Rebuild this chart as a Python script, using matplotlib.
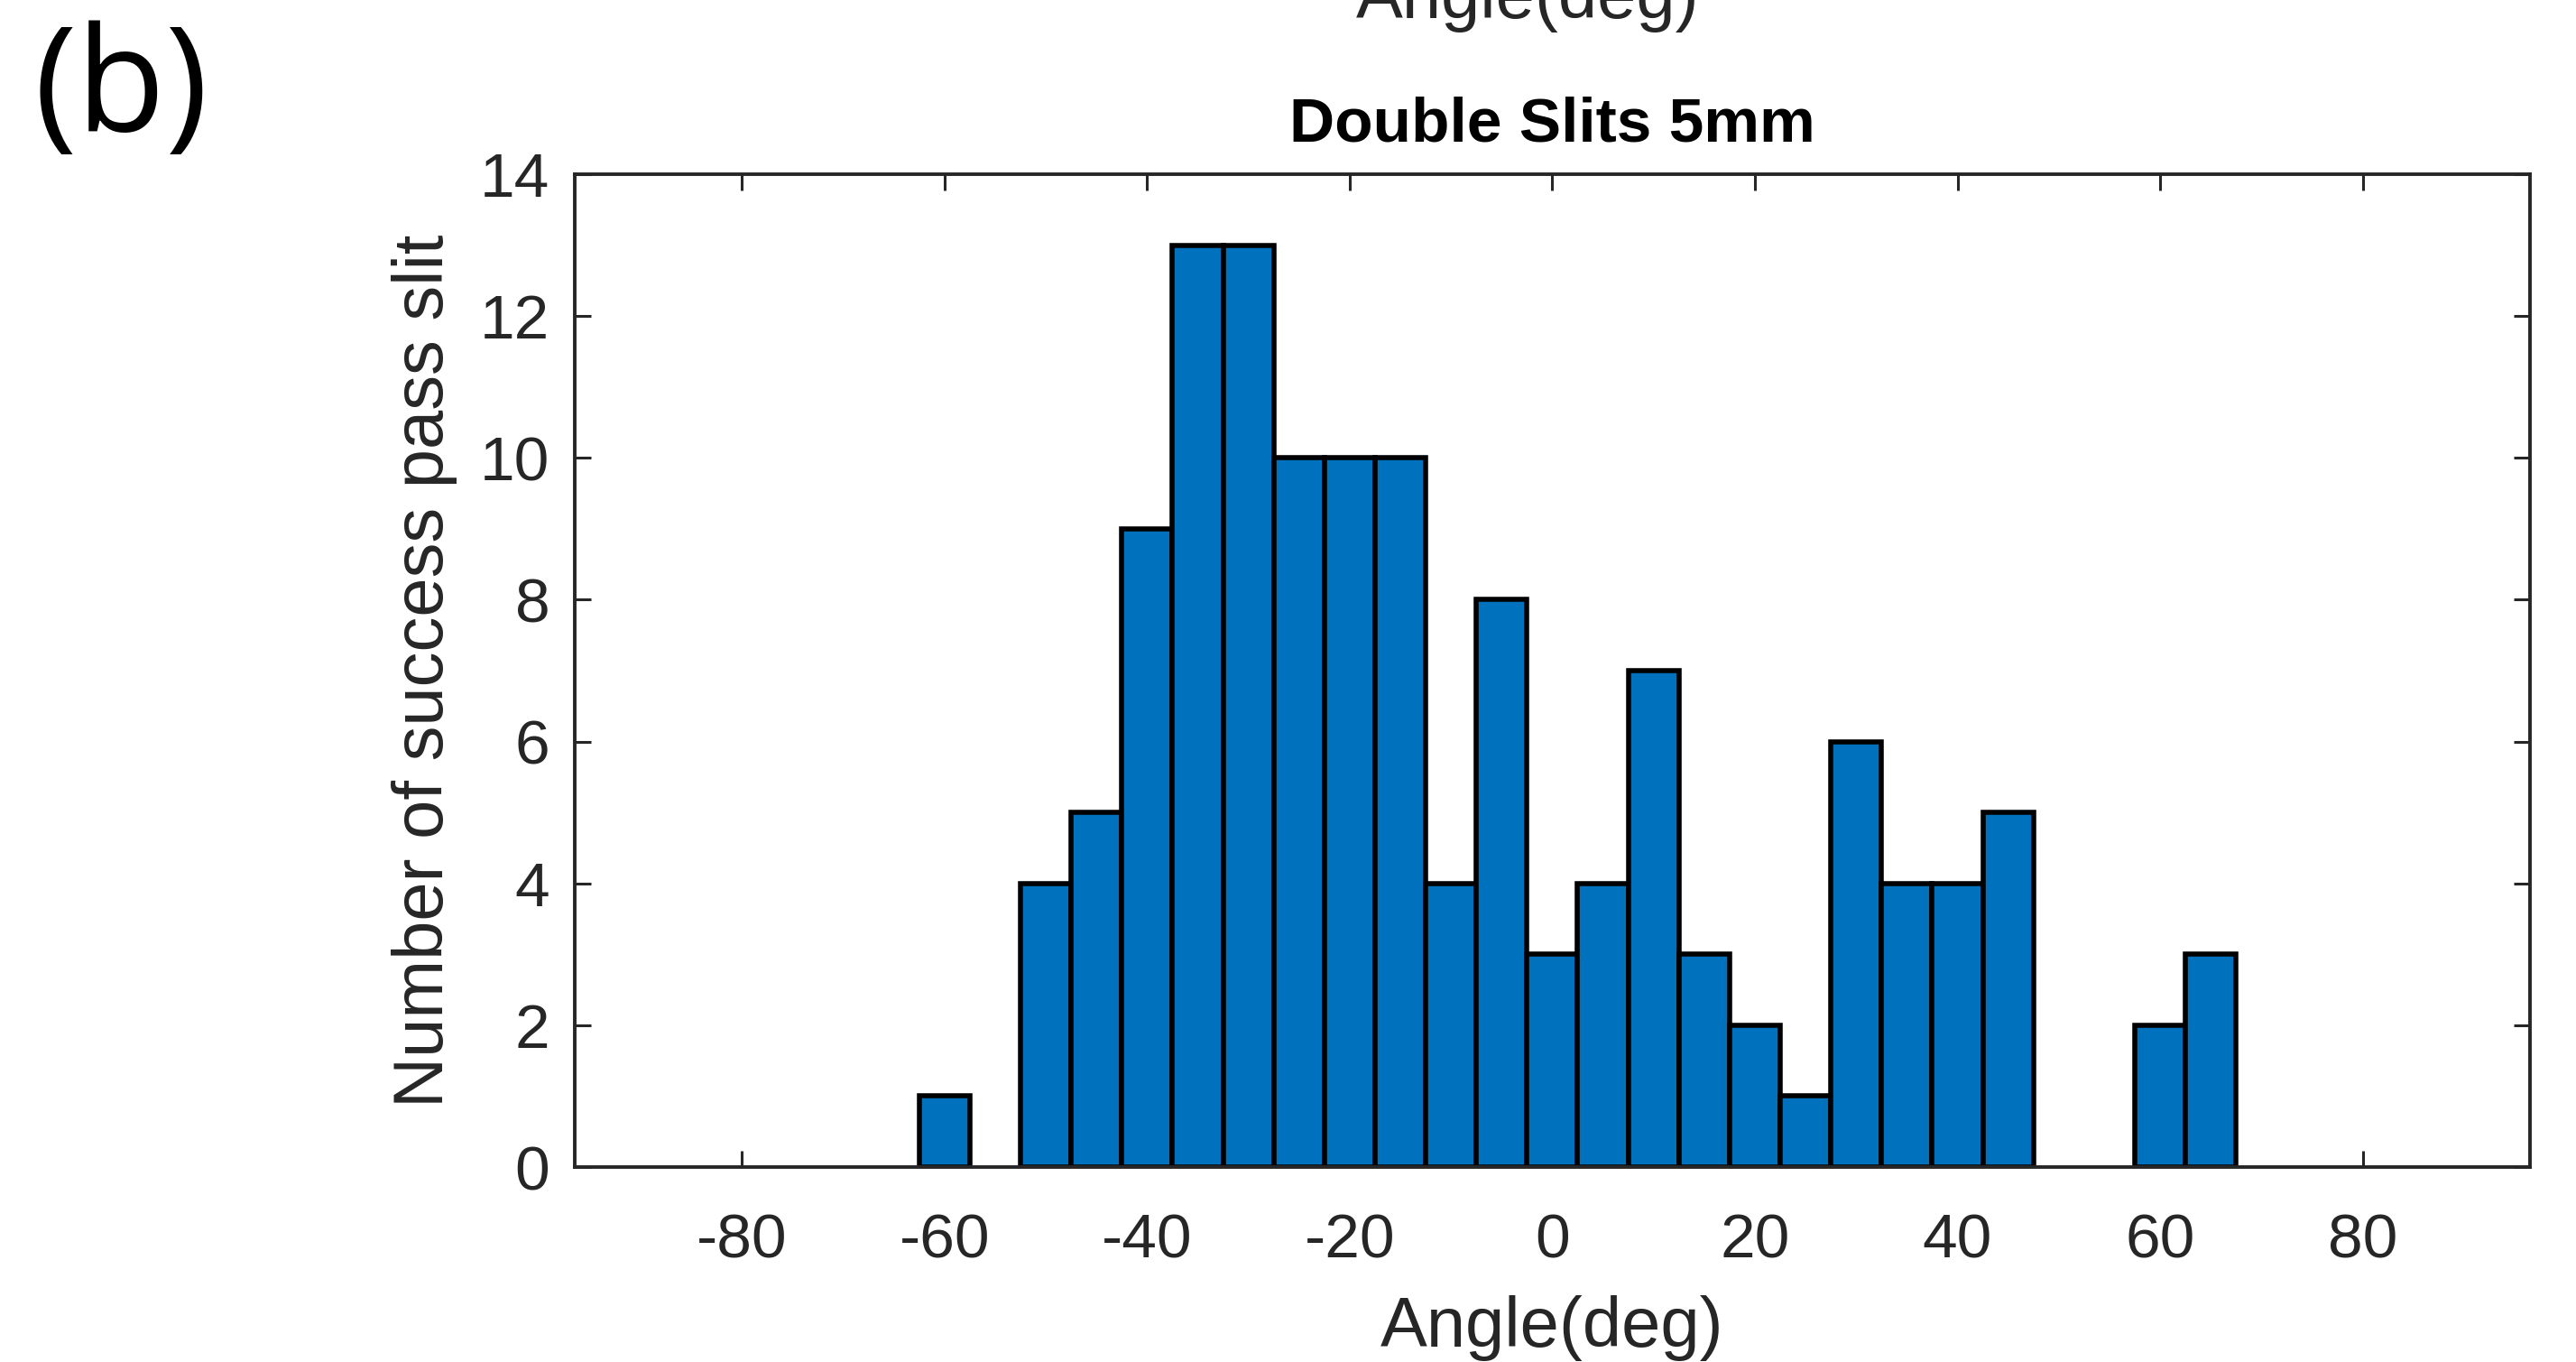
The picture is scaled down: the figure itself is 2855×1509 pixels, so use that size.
import matplotlib
matplotlib.use("Agg")
import matplotlib.pyplot as plt
import numpy as np

# Data
bin_centers = [-60, -55, -50, -45, -40, -35, -30, -25, -20, -15, -10, -5, 0, 5,
               10, 15, 20, 25, 30, 35, 40, 45, 50, 55, 60, 65]
counts = [1, 0, 4, 5, 9, 13, 13, 10, 10, 10, 4, 8, 3, 4,
          7, 3, 2, 1, 6, 4, 4, 5, 0, 0, 2, 3]
bin_width = 5
x_ticks = [-80, -60, -40, -20, 0, 20, 40, 60, 80]
y_ticks = [0, 2, 4, 6, 8, 10, 12, 14]

plt.rcParams['font.family'] = ['Liberation Sans', 'DejaVu Sans']
plt.rcParams['axes.unicode_minus'] = False

fig = plt.figure(figsize=(28.55, 15.09), dpi=100)
ax = fig.add_axes([0.2231, 0.1431, 0.9821 - 0.2231, 0.8721 - 0.1431])

centers = np.array(bin_centers, dtype=float)
vals = np.array(counts, dtype=float)
mask = vals > 0
ax.bar(centers[mask], vals[mask], width=bin_width, align='center',
       color='#0072BD', edgecolor='black', linewidth=4.0, zorder=2)

ax.set_xlim(-96.5, 96.5)
ax.set_ylim(0, 14)
ax.set_xticks(x_ticks)
ax.set_yticks(y_ticks)

spine_color = '#262626'
for s in ax.spines.values():
    s.set_color(spine_color)
    s.set_linewidth(2.8)
    s.set_zorder(3)

ax.tick_params(axis='both', which='both', direction='in', length=13, width=2.2,
               colors=spine_color, labelsize=50, top=True, right=True)
ax.tick_params(axis='x', pad=36)
ax.tick_params(axis='y', pad=20)

ax.set_xlabel('Angle(deg)', fontsize=56, color=spine_color, labelpad=20)
ax.set_ylabel('Number of success pass slit', fontsize=56, color=spine_color, labelpad=18)
ax.set_title('Double Slits 5mm', fontsize=50, fontweight='bold', pad=26, color='black')

# panel label and cut-off label from the panel above
fig.text(0.013, 0.985, '(b)', fontsize=116, va='top', ha='left', color='black',
         family=['Open Sans', 'DejaVu Sans'])
fig.text(0.593, 1.0, 'Angle(deg)', fontsize=56, va='center', ha='center',
         color=spine_color)

fig.savefig('out.png', dpi=100)
